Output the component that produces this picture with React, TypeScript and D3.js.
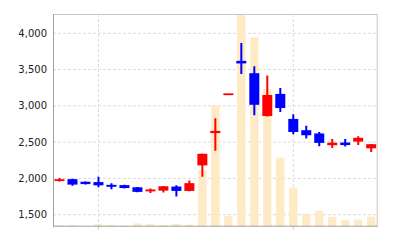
import React from "react";
import * as d3 from "d3";

const categories = [
  "d01", "d02", "d03", "d04", "d05", "d06", "d07", "d08", "d09", "d10",
  "d11", "d12", "d13", "d14", "d15", "d16", "d17", "d18", "d19", "d20",
  "d21", "d22", "d23", "d24", "d25",
];
const openValues = [1968, 1990, 1955, 1950, 1912, 1908, 1878, 1822, 1832, 1888, 1828, 2180, 2625, 3158, 3620, 3450, 2860, 3165, 2820, 2665, 2620, 2458, 2495, 2508, 2415];
const highValues = [2005, 1995, 1958, 2025, 1935, 1912, 1882, 1862, 1895, 1905, 1970, 2340, 2830, 3165, 3865, 3545, 3420, 3245, 2885, 2725, 2640, 2545, 2545, 2580, 2475];
const lowValues = [1958, 1900, 1918, 1880, 1852, 1862, 1810, 1800, 1805, 1752, 1825, 2025, 2380, 3155, 3440, 2870, 2855, 2915, 2610, 2550, 2445, 2420, 2440, 2462, 2365];
const closeValues = [1985, 1915, 1922, 1905, 1885, 1868, 1815, 1848, 1892, 1828, 1935, 2340, 2655, 3162, 3585, 3015, 3150, 2970, 2640, 2595, 2490, 2492, 2460, 2560, 2472];
const volumeValues = [15000, 15000, 5000, 24000, 15000, 10000, 33000, 25000, 15000, 27000, 20000, 567000, 1210000, 105000, 2127000, 1894000, 1377000, 690000, 390000, 130000, 157000, 100000, 64000, 70000, 100000];

const yTicks = [1500, 2000, 2500, 3000, 3500, 4000];
const yDomain = [1335, 4266];
const xTickCategories = ["d04", "d19"];

const W = 400;
const H = 240;
const M = { left: 53, top: 14, right: 22.3, bottom: 13.3 };

export default function App() {
  const x = d3
    .scaleBand<string>()
    .domain(categories)
    .range([M.left, W - M.right])
    .padding(0);
  const y = d3.scaleLinear().domain(yDomain).range([H - M.bottom, M.top]);
  const yVol = d3
    .scaleLinear()
    .domain([0, d3.max(volumeValues) as number])
    .range([H - M.bottom, M.top]);
  const bw = x.bandwidth();
  const candleW = bw * 0.77;
  const volW = bw * 0.64;
  const fmt = d3.format(",");
  const x0 = M.left;
  const x1 = W - M.right;
  const y0 = H - M.bottom;
  const y1 = M.top;

  return (
    <svg
      width={W}
      height={H}
      style={{ position: "fixed", left: 0, top: 0, background: "#fff" }}
      fontFamily="DejaVu Sans, sans-serif"
    >
      <defs>
        <clipPath id="plot">
          <rect x={x0} y={y1} width={x1 - x0} height={y0 - y1} />
        </clipPath>
      </defs>
      {/* grid */}
      {yTicks.map((t) => (
        <line
          key={"gy" + t}
          x1={x0}
          x2={x1}
          y1={y(t)}
          y2={y(t)}
          stroke="#dcdcdc"
          strokeDasharray="3,2"
          strokeWidth={1}
        />
      ))}
      {xTickCategories.map((c) => {
        const cx = (x(c) as number) + bw / 2;
        return (
          <g key={"gx" + c}>
            <line x1={cx} x2={cx} y1={y1} y2={y0} stroke="#dcdcdc" strokeDasharray="3,2" />
            <line x1={cx} x2={cx} y1={y0} y2={y0 + 3} stroke="#c8c8c8" />
          </g>
        );
      })}
      {/* volume */}
      <g clipPath="url(#plot)">
        {categories.map((c, i) => {
          const cx = (x(c) as number) + bw / 2;
          return (
            <rect
              key={"v" + c}
              x={cx - volW / 2}
              width={volW}
              y={yVol(volumeValues[i])}
              height={y0 - yVol(volumeValues[i])}
              fill="#feeac4"
            />
          );
        })}
      </g>
      {/* candles */}
      <g clipPath="url(#plot)">
        {categories.map((c, i) => {
          const cx = (x(c) as number) + bw / 2;
          const o = openValues[i];
          const cl = closeValues[i];
          const up = cl >= o;
          const color = up ? "#ff0000" : "#0000ff";
          const top = y(Math.max(o, cl));
          const bot = y(Math.min(o, cl));
          const h = Math.max(bot - top, 1.8);
          return (
            <g key={"c" + c}>
              <line
                x1={cx}
                x2={cx}
                y1={y(highValues[i])}
                y2={y(lowValues[i])}
                stroke={color}
                strokeWidth={2}
              />
              <rect
                x={cx - candleW / 2}
                width={candleW}
                y={(top + bot) / 2 - h / 2}
                height={h}
                fill={color}
              />
            </g>
          );
        })}
      </g>
      {/* frame */}
      <line x1={x0} x2={x1} y1={y1 + 0.5} y2={y1 + 0.5} stroke="#c8c8c8" />
      <line x1={x1 - 0.5} x2={x1 - 0.5} y1={y1} y2={y0} stroke="#c8c8c8" />
      <line x1={x0 + 0.5} x2={x0 + 0.5} y1={y1} y2={y0} stroke="#a0a0a0" />
      <line x1={x0} x2={x1} y1={y0 - 0.5} y2={y0 - 0.5} stroke="#a0a0a0" />
      {/* y labels */}
      {yTicks.map((t) => (
        <text
          key={"yl" + t}
          x={x0 - 6}
          y={y(t)}
          textAnchor="end"
          dominantBaseline="central"
          fontSize={10}
          fill="#222"
        >
          {fmt(t)}
        </text>
      ))}
    </svg>
  );
}
